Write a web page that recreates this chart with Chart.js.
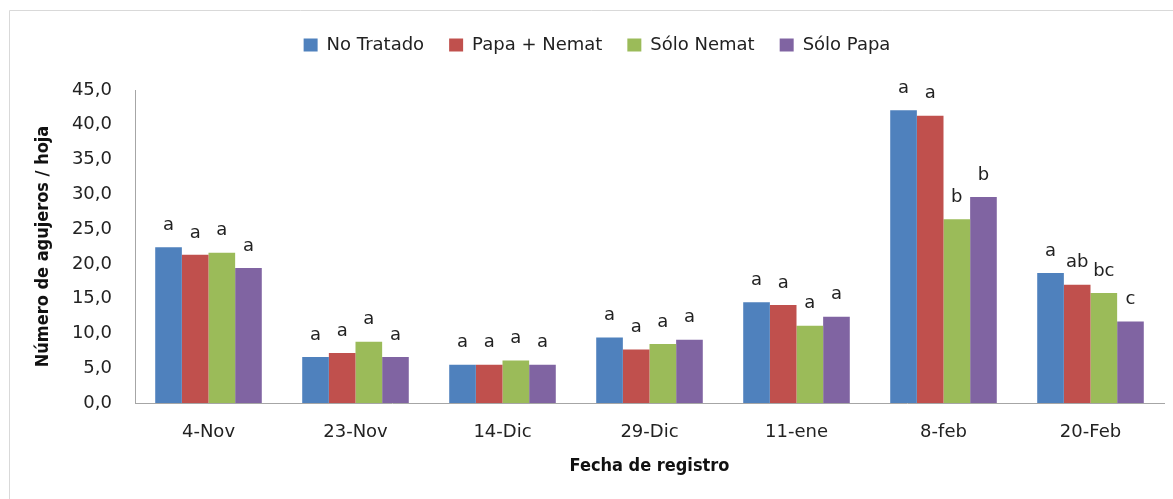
<!DOCTYPE html>
<html>
<head>
<meta charset="utf-8">
<script src="https://cdn.jsdelivr.net/npm/chart.js@4"></script>
<style>
html,body{margin:0;padding:0;background:#fff;}
#wrap{position:relative;width:1173px;height:499px;}
</style>
</head>
<body>
<div id="wrap"><canvas id="c" width="1173" height="499"></canvas></div>
<script>
const categories = ["4-Nov", "23-Nov", "14-Dic", "29-Dic", "11-ene", "8-feb", "20-Feb"];
const seriesNames = ["No Tratado", "Papa + Nemat", "Sólo Nemat", "Sólo Papa"];
const noTratado  = [22.4, 6.6, 5.5, 9.4, 14.5, 42.1, 18.7];
const papaNemat  = [21.3, 7.2, 5.5, 7.7, 14.1, 41.3, 17.0];
const soloNemat  = [21.6, 8.8, 6.1, 8.5, 11.1, 26.4, 15.8];
const soloPapa   = [19.4, 6.6, 5.5, 9.1, 12.4, 29.6, 11.7];
const lettersNoTratado = ["a", "a", "a", "a", "a", "a", "a"];
const lettersPapaNemat = ["a", "a", "a", "a", "a", "a", "ab"];
const lettersSoloNemat = ["a", "a", "a", "a", "a", "b", "bc"];
const lettersSoloPapa  = ["a", "a", "a", "a", "a", "b", "c"];
const yTicks = [0, 5, 10, 15, 20, 25, 30, 35, 40, 45];

const colors = ["#4F81BD", "#C0504D", "#9BBB59", "#8064A2"];
const values = [noTratado, papaNemat, soloNemat, soloPapa];
const letters = [lettersNoTratado, lettersPapaNemat, lettersSoloNemat, lettersSoloPapa];
const FONT = "'DejaVu Sans', sans-serif";
const TFONT = "'DejaVu Sans Condensed', 'DejaVu Sans', sans-serif";

const letterPlugin = {
  id: 'letters',
  afterDatasetsDraw(chart) {
    const ctx = chart.ctx;
    ctx.save();
    ctx.font = "18px " + FONT;
    ctx.fillStyle = "#222";
    ctx.textAlign = "center";
    ctx.textBaseline = "middle";
    chart.data.datasets.forEach((ds, i) => {
      const meta = chart.getDatasetMeta(i);
      meta.data.forEach((bar, j) => {
        ctx.fillText(letters[i][j], bar.x, bar.y - 22);
      });
    });
    ctx.restore();
  }
};

const legendHeightPlugin = {
  id: 'legendHeight',
  beforeInit(chart) {
    const origFit = chart.legend.fit;
    chart.legend.fit = function() {
      origFit.call(this);
      this.height = 79;
    };
  }
};

const borderPlugin = {
  id: 'frame',
  afterDraw(chart) {
    const ctx = chart.ctx;
    ctx.save();
    ctx.strokeStyle = "#d9d9d9";
    ctx.lineWidth = 1;
    ctx.beginPath();
    ctx.moveTo(9.5, 499);
    ctx.lineTo(9.5, 10.5);
    ctx.lineTo(1173, 10.5);
    ctx.stroke();
    ctx.restore();
  }
};

new Chart(document.getElementById('c'), {
  type: 'bar',
  data: {
    labels: categories,
    datasets: values.map((v, i) => ({
      label: seriesNames[i],
      data: v,
      backgroundColor: colors[i],
      borderWidth: 0,
      categoryPercentage: 0.725,
      barPercentage: 1.0
    }))
  },
  options: {
    responsive: false,
    animation: false,
    layout: { padding: { left: 30, right: 9, top: 11, bottom: 18 } },
    plugins: {
      legend: {
        position: 'top',
        labels: {
          font: { family: FONT, size: 18 },
          color: '#222',
          boxWidth: 14,
          boxHeight: 13,
          padding: 25
        }
      },
      tooltip: { enabled: false }
    },
    scales: {
      x: {
        grid: { display: false, drawTicks: false },
        border: { color: '#a6a6a6' },
        ticks: { font: { family: FONT, size: 18 }, color: '#222', padding: 19 },
        title: { display: true, text: 'Fecha de registro', font: { family: TFONT, size: 18, weight: 'bold' }, color: '#111', padding: { top: 0, bottom: 4 } },
        afterFit(axis) { axis.height = 78; }
      },
      y: {
        min: 0, max: 45,
        afterBuildTicks(axis) { axis.ticks = yTicks.map(v => ({ value: v })); },
        grid: { display: false, drawTicks: false },
        border: { color: '#a6a6a6' },
        ticks: {
          font: { family: FONT, size: 18 }, color: '#222', padding: 23,
          callback: v => v.toFixed(1).replace('.', ',')
        },
        title: { display: true, text: 'Número de agujeros / hoja', font: { family: TFONT, size: 18, weight: 'bold' }, color: '#111', padding: { top: 3, bottom: 0 } },
        afterFit(axis) { axis.width = 105; }
      }
    }
  },
  plugins: [letterPlugin, legendHeightPlugin, borderPlugin]
});
</script>
</body>
</html>
